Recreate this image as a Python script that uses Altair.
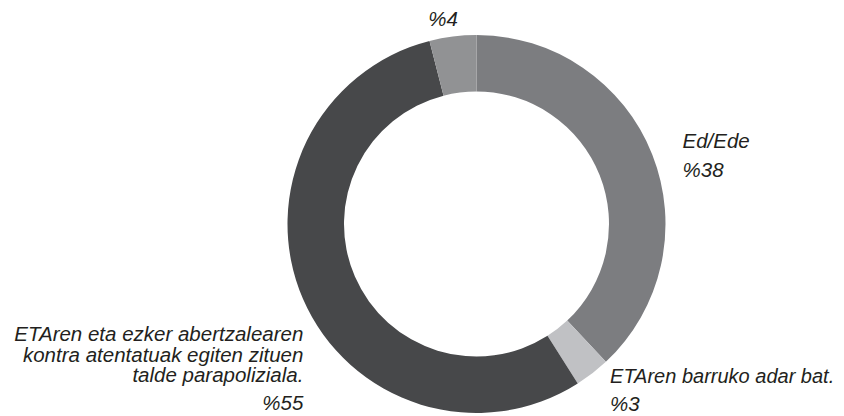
import altair as alt
import pandas as pd

# ---- data ----
categories = ["Ed/Ede", "ETAren barruko adar bat.",
              "ETAren eta ezker abertzalearen kontra atentatuak egiten zituen talde parapoliziala.",
              "Ezezaguna"]
values = [38, 3, 55, 4]
name_lines = [["Ed/Ede"], ["ETAren barruko adar bat."],
              ["ETAren eta ezker abertzalearen", "kontra atentatuak egiten zituen", "talde parapoliziala."],
              [""]]
pct_labels = ["%38", "%3", "%55", "%4"]
colors = ["#7c7d80", "#c0c1c4", "#47484a", "#919294"]

df = pd.DataFrame({
    "idx": list(range(len(categories))),
    "cat": categories,
    "value": values,
    "name": name_lines,
    "pct": pct_labels,
})

CX, CY = 468.5, 216
R_OUT, R_IN = 189, 132.5
FONT = "Liberation Sans"
TXT = "#231f20"

theta_scale = alt.Scale(domain=[0, 100], range=[0, 6.283185307179586])

base = alt.Chart(df).transform_window(
    cum="sum(value)", sort=[alt.SortField("idx")], frame=[None, 0]
).transform_calculate(
    start="datum.cum - datum.value",
    mid="datum.cum - datum.value / 2",
)

arcs = base.mark_arc(outerRadius=R_OUT, innerRadius=R_IN, stroke=None).encode(
    theta=alt.Theta("start:Q", scale=theta_scale, stack=None),
    theta2="cum:Q",
    color=alt.Color("cat:N", scale=alt.Scale(domain=categories, range=colors), legend=None),
    x=alt.value(CX), y=alt.value(CY),
)


def label(i, field, align, dx, dy, size=20.5, line_height=20.5):
    return base.transform_filter(alt.datum.idx == i).mark_text(
        font=FONT, fontSize=size, fontStyle="italic", color=TXT,
        align=align, baseline="alphabetic", dx=dx, dy=dy, lineHeight=line_height,
    ).encode(
        theta=alt.Theta("mid:Q", scale=theta_scale, stack=None),
        radius=alt.value(R_OUT),
        text=alt.Text(f"{field}"),
        x=alt.value(CX), y=alt.value(CY),
    )


layers = [
    arcs,
    label(0, "name", "left", 30.3, -6.4),
    label(0, "pct", "left", 30.3, 22.6),
    label(1, "name", "left", 17.7, 10.0, size=20),
    label(1, "pct", "left", 17.7, 38.0),
    label(2, "name", "right", 0.3, 42.4),
    label(2, "pct", "right", 0.3, 110.9),
    label(3, "pct", "center", -9.8, -10.5),
]

chart = alt.layer(*layers).properties(
    width=828, height=408,
    autosize=alt.AutoSizeParams(type="none"),
    padding=0,
).configure_view(stroke=None)

chart.save("out.html", embed_options={"renderer": "svg", "actions": False})
